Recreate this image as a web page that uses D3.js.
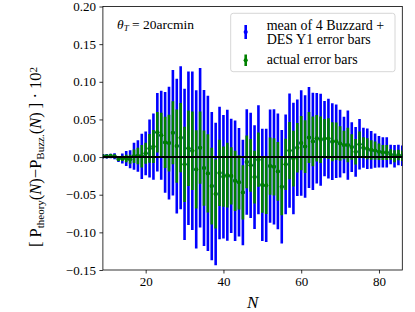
<!DOCTYPE html>
<html><head><meta charset="utf-8">
<script src="https://cdn.jsdelivr.net/npm/d3@7"></script>
<style>
body{margin:0;background:#fff;}
svg text{font-family:"Liberation Serif",serif;fill:#000;}
</style></head>
<body><svg id="c" width="415" height="312" font-family="Liberation Serif, serif"></svg>
<script>
const Ns = d3.range(9, 87);
const means = [0.001,0.001,0.0015,0.001,-0.0027,-0.0018,-0.0018,-0.003,0.001,0.0015,0.001,0.005,0.0115,0.014,0.033,0.029,0.0195,0.0186,0.0323,0.0146,0.0257,-0.0097,0.0117,0.0084,-0.0164,0.0124,-0.0146,-0.0217,-0.0385,-0.049,-0.021,-0.026,-0.024,-0.025,-0.0315,-0.0335,-0.047,-0.0065,-0.011,-0.0266,-0.0035,-0.037,-0.0376,-0.012,-0.013,-0.019,-0.0394,-0.0097,0.0086,-0.002,0.0124,0.0186,0.014,0.026,0.0208,0.025,0.023,0.0246,0.0246,0.0204,0.021,0.018,0.016,0.016,0.0133,0.007,0.017,0.0124,0.011,0.0095,0.0086,0.007,0.0062,0.0062,0.0033,0.0011,0.0027,0.0018];
const blueErr = [0.003,0.003,0.003,0.004,0.004,0.0066,0.010,0.012,0.018,0.021,0.030,0.029,0.0385,0.044,0.052,0.059,0.067,0.0748,0.0832,0.0894,0.095,0.1005,0.102,0.1054,0.105,0.106,0.1036,0.103,0.0985,0.0947,0.088,0.082,0.087,0.076,0.080,0.072,0.070,0.070,0.070,0.069,0.0724,0.0746,0.0753,0.0753,0.0764,0.077,0.0753,0.0664,0.076,0.074,0.064,0.070,0.068,0.067,0.0646,0.060,0.061,0.050,0.053,0.051,0.0487,0.045,0.0376,0.046,0.033,0.033,0.0336,0.0266,0.0268,0.025,0.0228,0.021,0.020,0.020,0.013,0.015,0.0137,0.0137];
const greenErr = [0.002,0.002,0.002,0.002,0.002,0.0035,0.005,0.006,0.009,0.011,0.015,0.014,0.019,0.022,0.027,0.030,0.034,0.0376,0.042,0.0487,0.046,0.050,0.050,0.052,0.052,0.048,0.050,0.052,0.051,0.046,0.044,0.040,0.043,0.038,0.040,0.036,0.036,0.035,0.035,0.035,0.036,0.037,0.038,0.038,0.038,0.039,0.038,0.034,0.038,0.037,0.033,0.036,0.035,0.034,0.033,0.031,0.031,0.026,0.027,0.026,0.025,0.023,0.019,0.023,0.017,0.017,0.017,0.014,0.014,0.013,0.012,0.011,0.010,0.010,0.007,0.008,0.007,0.007];
const xTicks = [20,40,60,80];
const yTicks = [-0.15,-0.10,-0.05,0.00,0.05,0.10,0.15,0.20];

const FONT = "Liberation Serif, serif";
const svg = d3.select("#c");
const L=102.9, R=402.3, T=6.5, B=270;
const x = d3.scaleLinear().domain([9,86]).range([L,R]);
const y = d3.scaleLinear().domain([-0.15,0.20]).range([B,T]);
const data = Ns.map((n,i)=>({n, m:means[i], b:blueErr[i], g:greenErr[i]}));

svg.append("defs").append("clipPath").attr("id","clip")
  .append("rect").attr("x",L).attr("y",T).attr("width",R-L).attr("height",B-T);
const plot = svg.append("g").attr("clip-path","url(#clip)");

plot.selectAll(".bb").data(data).enter().append("line")
  .attr("x1",d=>x(d.n)).attr("x2",d=>x(d.n))
  .attr("y1",d=>y(d.m+d.b)).attr("y2",d=>y(d.m-d.b))
  .attr("stroke","#0000ff").attr("stroke-width",2.6);
plot.selectAll(".bm").data(data).enter().append("circle")
  .attr("cx",d=>x(d.n)).attr("cy",d=>y(d.m)).attr("r",2).attr("fill","#0000ff");
plot.selectAll(".gb").data(data).enter().append("line")
  .attr("x1",d=>x(d.n)).attr("x2",d=>x(d.n))
  .attr("y1",d=>y(d.m+d.g)).attr("y2",d=>y(d.m-d.g))
  .attr("stroke","#008000").attr("stroke-width",2.6);
plot.selectAll(".gm").data(data).enter().append("circle")
  .attr("cx",d=>x(d.n)).attr("cy",d=>y(d.m)).attr("r",2.1).attr("fill","#008000");
plot.append("line").attr("x1",L).attr("x2",R).attr("y1",y(0)).attr("y2",y(0))
  .attr("stroke","#000").attr("stroke-width",2);

// axes
const xAxis = d3.axisBottom(x).tickValues(xTicks).tickSize(3.5).tickPadding(3.5).tickFormat(d3.format("d"));
const yAxis = d3.axisLeft(y).tickValues(yTicks).tickSize(3.5).tickPadding(3.5).tickFormat(d3.format(".2f"));
const gx = svg.append("g").attr("transform",`translate(0,${B})`).call(xAxis);
const gy = svg.append("g").attr("transform",`translate(${L},0)`).call(yAxis);
[gx,gy].forEach(g=>{
  g.attr("font-family",FONT).attr("font-size",13);
  g.select(".domain").remove();
  g.selectAll("line").attr("stroke","#000").attr("stroke-width",0.8);
  g.selectAll("text").attr("font-family",FONT).style("font-family",FONT).style("font-size","13px").attr("fill","#000");
});
svg.append("rect").attr("x",L).attr("y",T).attr("width",R-L).attr("height",B-T)
  .attr("fill","none").attr("stroke","#000").attr("stroke-width",0.8);

// x label
svg.append("text").attr("x",(L+R)/2).attr("y",308).attr("text-anchor","middle")
  .style("font-family",FONT).style("font-size","17px").style("font-style","italic").text("N");

// y label
const yl = svg.append("text").attr("transform","translate(41,157) rotate(-90)")
  .attr("text-anchor","middle").style("font-family",FONT).style("font-size","16.5px");
yl.append("tspan").text("[ P");
yl.append("tspan").attr("baseline-shift","-25%").style("font-size","11px").text("theory");
yl.append("tspan").text("(");
yl.append("tspan").style("font-style","italic").text("N");
yl.append("tspan").text(")−P");
yl.append("tspan").attr("baseline-shift","-25%").style("font-size","11px").text("Buzz.");
yl.append("tspan").text("(");
yl.append("tspan").style("font-style","italic").text("N");
yl.append("tspan").text(") ] · 10");
yl.append("tspan").attr("baseline-shift","40%").style("font-size","11px").text("2");

// annotation
const ann = svg.append("text").attr("x",117).attr("y",28.5).style("font-family",FONT).style("font-size","13.5px");
ann.append("tspan").style("font-style","italic").text("θ");
ann.append("tspan").attr("baseline-shift","-25%").style("font-size","9px").style("font-style","italic").text("T");
ann.append("tspan").text(" = 20arcmin");

// legend
const lg = svg.append("g");
lg.append("rect").attr("x",230.7).attr("y",13.3).attr("width",164.3).attr("height",58.4).attr("rx",2.5)
  .attr("fill","#fff").attr("fill-opacity",0.8).attr("stroke","#cccccc").attr("stroke-width",0.8);
const legendItems = [
  {c:"#0000ff", y1:25, y2:39, lines:["mean of 4 Buzzard +","DES Y1 error bars"], ty:29.8},
  {c:"#008000", y1:54.5, y2:66, lines:["actual error bars"], ty:63.8}
];
legendItems.forEach(it=>{
  lg.append("line").attr("x1",245.7).attr("x2",245.7).attr("y1",it.y1).attr("y2",it.y2)
    .attr("stroke",it.c).attr("stroke-width",2.6);
  lg.append("circle").attr("cx",245.7).attr("cy",(it.y1+it.y2)/2).attr("r",2.1).attr("fill",it.c);
  it.lines.forEach((t,i)=>{
    lg.append("text").attr("x",266.7).attr("y",it.ty+i*14).style("font-family",FONT).style("font-size","14px").text(t);
  });
});
</script></body></html>
